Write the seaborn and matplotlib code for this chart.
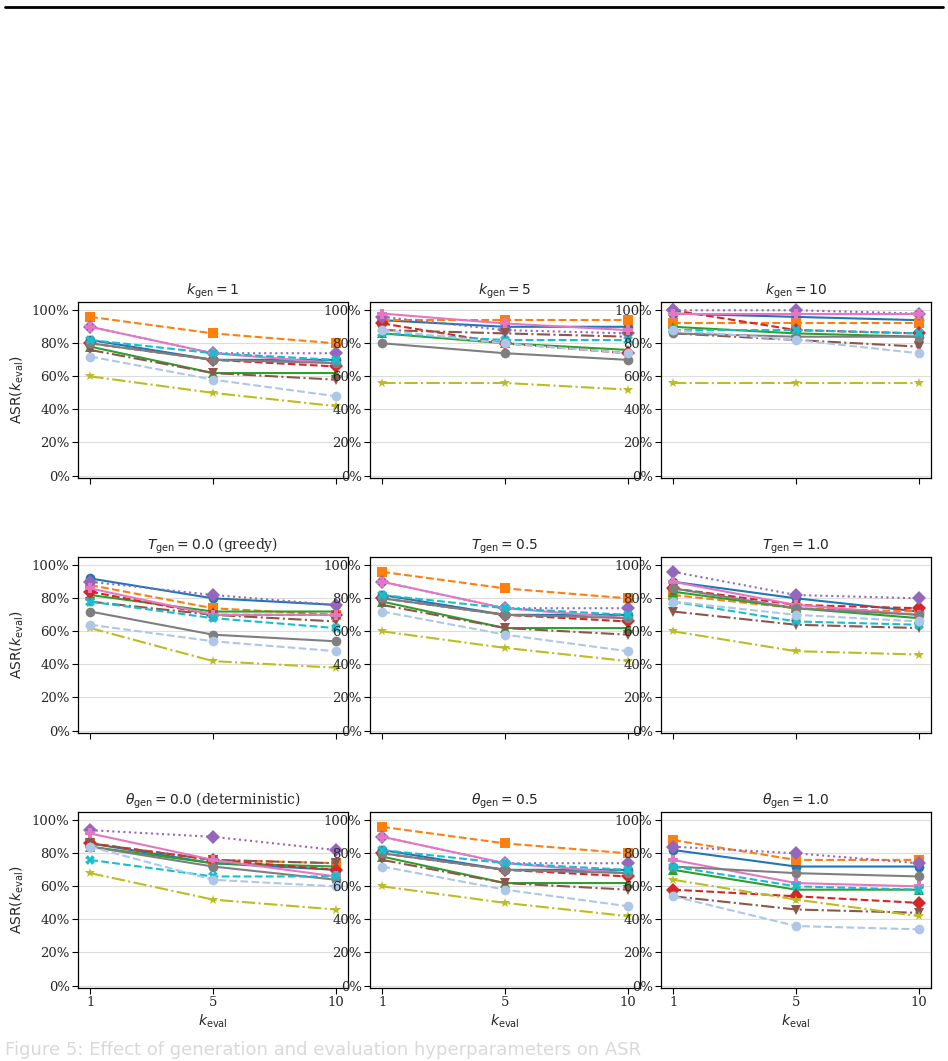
import numpy as np
import pandas as pd
import matplotlib
matplotlib.use("Agg")
import matplotlib.pyplot as plt
from matplotlib.lines import Line2D
from matplotlib.ticker import PercentFormatter
import seaborn as sns

sns.set_theme(style="white")
plt.rcParams['font.family'] = ['DejaVu Serif']
plt.rcParams['mathtext.fontset'] = 'dejavusans'

k_eval = ["1", "5", "10"]

series = ["M1", "M2", "M3", "M4", "M5", "M6", "M7", "M8", "M9", "M10", "M11"]
colors = ["#1f77b4", "#ff7f0e", "#2ca02c", "#d62728", "#9467bd", "#8c564b",
          "#e377c2", "#7f7f7f", "#bcbd22", "#17becf", "#aec7e8"]
markers = ["o", "s", "^", "D", "D", "v", "P", "o", "*", "X", "o"]
linestyles = ["-", "--", "-", "--", ":", "-.", "-", "-", "-.", "--", "--"]

titles = [r"$k_{\mathrm{gen}}=1$", r"$k_{\mathrm{gen}}=5$", r"$k_{\mathrm{gen}}=10$",
          r"$T_{\mathrm{gen}}=0.0$ (greedy)", r"$T_{\mathrm{gen}}=0.5$", r"$T_{\mathrm{gen}}=1.0$",
          r"$\theta_{\mathrm{gen}}=0.0$ (deterministic)", r"$\theta_{\mathrm{gen}}=0.5$", r"$\theta_{\mathrm{gen}}=1.0$"]

# order of values per series: blue, orange, green, red, purple, brown, pink, gray, olive, cyan, lightblue
default_vals = [
    [82, 70, 70], [96, 86, 80], [78, 62, 62], [80, 70, 66], [90, 74, 74], [76, 62, 58],
    [90, 74, 68], [80, 70, 68], [60, 50, 42], [82, 74, 70], [72, 58, 48],
]
kgen5_vals = [
    [94, 90, 90], [94, 94, 94], [86, 80, 76], [92, 80, 74], [96, 88, 86], [88, 86, 84],
    [98, 92, 88], [80, 74, 70], [56, 56, 52], [86, 82, 82], [88, 80, 74],
]
kgen10_vals = [
    [98, 96, 94], [92, 92, 92], [90, 86, 84], [100, 88, 86], [100, 100, 98], [86, 82, 78],
    [98, 98, 98], [86, 84, 84], [56, 56, 56], [88, 88, 86], [88, 82, 74],
]
tgen0_vals = [
    [92, 80, 76], [88, 74, 70], [82, 72, 72], [84, 70, 70], [90, 82, 76], [78, 70, 66],
    [86, 70, 70], [72, 58, 54], [62, 42, 38], [78, 68, 62], [64, 54, 48],
]
tgen1_vals = [
    [90, 80, 72], [82, 74, 72], [84, 74, 68], [86, 76, 74], [96, 82, 80], [72, 64, 62],
    [90, 76, 70], [86, 74, 70], [60, 48, 46], [78, 66, 64], [78, 70, 66],
]
theta0_vals = [
    [86, 74, 70], [86, 76, 74], [84, 74, 72], [86, 76, 70], [94, 90, 82], [86, 76, 74],
    [92, 76, 66], [84, 72, 64], [68, 52, 46], [76, 66, 66], [84, 64, 60],
]
theta1_vals = [
    [82, 72, 72], [88, 76, 76], [70, 58, 58], [58, 54, 50], [84, 80, 74], [54, 46, 44],
    [76, 62, 60], [72, 68, 66], [64, 52, 42], [72, 60, 58], [54, 36, 34],
]

panels = [default_vals, kgen5_vals, kgen10_vals,
          tgen0_vals, default_vals, tgen1_vals,
          theta0_vals, default_vals, theta1_vals]

W, H = 948, 1061
fig = plt.figure(figsize=(W / 100, H / 100), dpi=100)

col_l = [78, 370, 661]
col_w = 270
row_t = [302, 557, 812]
row_h = 176

for idx, vals in enumerate(panels):
    r, c = divmod(idx, 3)
    ax = fig.add_axes([col_l[c] / W, 1 - (row_t[r] + row_h) / H, col_w / W, row_h / H])
    ax.grid(axis="y", color="#dddddd", linewidth=0.8)
    ax.set_axisbelow(True)
    for s in range(len(series)):
        y = np.array(vals[s]) / 100.0
        df = pd.DataFrame({"x": np.arange(len(k_eval)), "y": y})
        sns.lineplot(data=df, x="x", y="y", ax=ax, color=colors[s], marker=markers[s],
                     linestyle=linestyles[s], linewidth=1.5, markersize=7,
                     markeredgewidth=0, legend=False)
    ax.set_xlim(-0.1, 2.1)
    ax.set_ylim(-0.015, 1.05)
    ax.set_yticks(np.arange(0, 1.01, 0.2))
    ax.yaxis.set_major_formatter(PercentFormatter(1.0, decimals=0))
    ax.set_xticks(np.arange(len(k_eval)))
    if r == 2:
        ax.set_xticklabels(k_eval)
        ax.set_xlabel(r"$k_{\mathrm{eval}}$", fontsize=10, labelpad=2)
    else:
        ax.set_xticklabels([])
        ax.set_xlabel("")
    if c == 0:
        ax.set_ylabel(r"$\mathrm{ASR}(k_{\mathrm{eval}})$", fontsize=10)
    else:
        ax.set_ylabel("")
    ax.set_title(titles[idx], fontsize=10, pad=5)
    ax.tick_params(axis="both", which="both", direction="out", length=4, width=0.8,
                   labelsize=9.5, left=True, bottom=True, color="black", pad=2)
    for sp in ax.spines.values():
        sp.set_color("black")
        sp.set_linewidth(0.9)

# top rule of the page
fig.add_artist(Line2D([5 / W, 943 / W], [1 - 7 / H, 1 - 7 / H], color="black", linewidth=2.0))

# faded caption at the bottom of the page
fig.text(5 / W, 1 - 1055 / H, "Figure 5: Effect of generation and evaluation hyperparameters on ASR",
         fontsize=13, color="#d9d9d9", family="DejaVu Sans", va="baseline")

fig.savefig("out.png", dpi=100)
